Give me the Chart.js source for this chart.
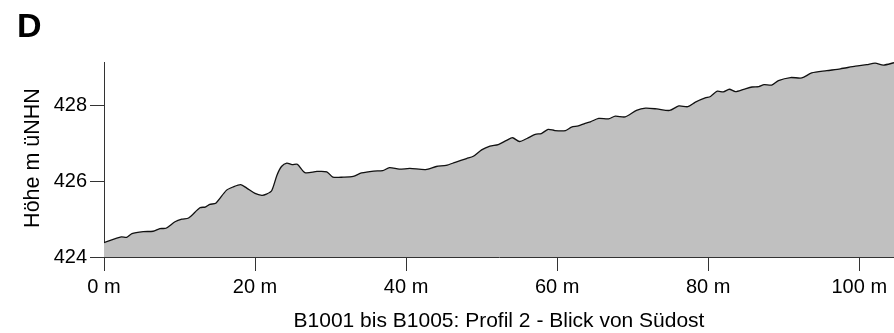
<!DOCTYPE html>
<html>
<head>
<meta charset="utf-8">
<script src="https://cdn.jsdelivr.net/npm/chart.js@4.4.1/dist/chart.umd.min.js"></script>
<style>
  html, body { margin: 0; padding: 0; background: #fff; }
  #wrap { width: 894px; height: 333px; position: relative; }
</style>
</head>
<body>
<div id="wrap"><canvas id="c" width="894" height="333"></canvas></div>
<script>
// Distance along profile (m)
const distance = [0, 2.3, 3.0, 3.7, 5.2, 6.5, 7.4, 8.2, 9.4, 10.3, 11.2, 12.7, 13.4, 14.0, 14.8, 16.2, 17.1, 18.1, 18.9, 20.0, 20.9, 21.5, 22.2, 22.9, 23.5, 24.2, 24.9, 25.6, 26.6, 28.2, 29.5, 30.3, 31.7, 33.0, 34.1, 35.7, 36.9, 37.8, 39.1, 40.5, 42.6, 44.0, 45.3, 46.5, 48.0, 48.9, 50.0, 51.1, 52.2, 53.3, 54.1, 55.0, 56.0, 57.1, 57.9, 58.8, 59.7, 61.1, 61.9, 62.8, 63.7, 64.4, 65.5, 66.8, 67.7, 69.0, 70.5, 71.7, 73.2, 74.9, 76.1, 77.3, 78.3, 79.6, 80.3, 81.2, 82.0, 82.8, 83.6, 84.7, 85.8, 86.7, 87.4, 88.4, 89.3, 90.9, 92.4, 93.7, 95.7, 97.5, 99.5, 101.0, 102.1, 103.2, 104.6];
// Elevation (m üNHN)
const elevation = [424.38, 424.53, 424.52, 424.62, 424.67, 424.68, 424.75, 424.76, 424.93, 425.0, 425.03, 425.3, 425.32, 425.39, 425.42, 425.76, 425.85, 425.91, 425.82, 425.68, 425.63, 425.66, 425.75, 426.16, 426.39, 426.48, 426.44, 426.45, 426.23, 426.26, 426.25, 426.11, 426.11, 426.13, 426.22, 426.27, 426.28, 426.36, 426.32, 426.34, 426.31, 426.39, 426.42, 426.5, 426.6, 426.66, 426.83, 426.93, 426.97, 427.08, 427.15, 427.05, 427.13, 427.24, 427.26, 427.37, 427.34, 427.34, 427.43, 427.46, 427.53, 427.57, 427.66, 427.65, 427.72, 427.70, 427.87, 427.93, 427.91, 427.87, 427.99, 427.97, 428.09, 428.2, 428.24, 428.38, 428.36, 428.43, 428.37, 428.43, 428.49, 428.5, 428.55, 428.54, 428.66, 428.74, 428.73, 428.86, 428.92, 428.97, 429.04, 429.08, 429.12, 429.07, 429.13];
const xTicks = [0, 20, 40, 60, 80, 100];
const yTicks = [424, 426, 428];
const panelLabel = "D";
const xTitle = "B1001 bis B1005: Profil 2 - Blick von Südost";
const yTitle = "Höhe m üNHN";

const FONT = "'Liberation Sans', Arial, Helvetica, sans-serif";
const points = distance.map((d, i) => ({ x: d, y: elevation[i] }));

const textPlugin = {
  id: 'texts',
  afterDraw(chart) {
    const ctx = chart.ctx;
    const area = chart.chartArea;
    ctx.save();
    ctx.fillStyle = '#000';
    ctx.font = "bold 34px " + FONT;
    ctx.textAlign = 'left';
    ctx.textBaseline = 'alphabetic';
    ctx.fillText(panelLabel, 17, 37);
    ctx.font = "21px " + FONT;
    ctx.textAlign = 'center';
    ctx.fillText(xTitle, (area.left + area.right) / 2, 327);
    ctx.font = "21.5px " + FONT;
    ctx.translate(38.5, 158);
    ctx.rotate(-Math.PI / 2);
    ctx.textBaseline = 'alphabetic';
    ctx.fillText(yTitle, 0, 0);
    ctx.restore();
  }
};

new Chart(document.getElementById('c'), {
  type: 'line',
  data: {
    datasets: [{
      data: points,
      borderColor: '#111',
      borderWidth: 1.3,
      backgroundColor: '#c0c0c0',
      fill: 'start',
      pointRadius: 0,
      tension: 0.25
    }]
  },
  options: {
    responsive: false,
    animation: false,
    devicePixelRatio: 1,
    layout: { padding: { top: 62, right: 0, left: 0, bottom: 0 } },
    plugins: { legend: { display: false }, tooltip: { enabled: false } },
    scales: {
      x: {
        type: 'linear',
        min: 0,
        max: 104.6,
        afterBuildTicks(s) { s.ticks = xTicks.map(v => ({ value: v })); },
        afterFit(s) { s.height = 76; s.paddingLeft = 0; s.paddingRight = 0; },
        grid: { drawOnChartArea: false, drawTicks: true, tickLength: 14, color: '#333', lineWidth: 1 },
        border: { display: true, color: '#333', width: 1 },
        ticks: {
          color: '#000',
          font: { size: 20, family: FONT },
          padding: 4,
          maxRotation: 0,
          autoSkip: false,
          callback: v => v + ' m'
        }
      },
      y: {
        type: 'linear',
        min: 424,
        max: 429.15,
        afterBuildTicks(s) { s.ticks = yTicks.map(v => ({ value: v })); },
        afterFit(s) { s.width = 104; s.paddingTop = 0; s.paddingBottom = 0; },
        grid: { drawOnChartArea: false, drawTicks: true, tickLength: 14, color: '#333', lineWidth: 1 },
        border: { display: true, color: '#333', width: 1 },
        ticks: {
          color: '#000',
          font: { size: 20, family: FONT },
          padding: 3,
          autoSkip: false,
          callback: v => String(v)
        }
      }
    }
  },
  plugins: [textPlugin]
});
</script>
</body>
</html>
